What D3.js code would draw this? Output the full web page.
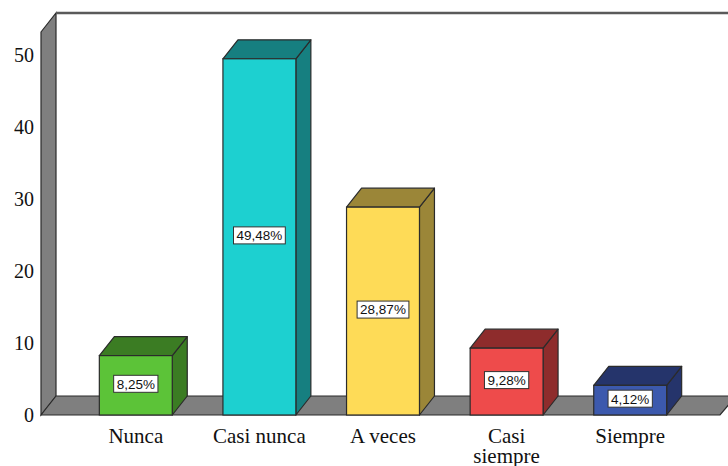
<!DOCTYPE html>
<html>
<head>
<meta charset="utf-8">
<script src="https://cdn.jsdelivr.net/npm/d3@7"></script>
<style>
  html, body { margin: 0; padding: 0; background: #fff; }
  svg { display: block; }
</style>
</head>
<body>
<svg id="chart" width="728" height="466"></svg>
<script>
// Survey responses, percentage of respondents per answer
const categories = ["Nunca", "Casi nunca", "A veces", "Casi siempre", "Siempre"];
const percentages = [8.25, 49.48, 28.87, 9.28, 4.12];
const valueLabels = ["8,25%", "49,48%", "28,87%", "9,28%", "4,12%"];
const yTicks = [0, 10, 20, 30, 40, 50];

const frontColors = ["#5cc338", "#1dd0d0", "#fedb57", "#ee4b4b", "#3c59ad"];
const sideColors  = ["#3b7c23", "#167f80", "#9b8638", "#8e2c2c", "#25346b"];

const W = 728, H = 466;
const svg = d3.select("#chart");

// 3D depth offset of the back plane relative to the front plane
const DX = 15, DY = -19;
const floorLeft = 41, floorRight = 720;
const axisMax = 53.2;

const y = d3.scaleLinear().domain([0, axisMax]).range([415, 32]);
const x = d3.scaleBand().domain(categories).range([74, 692])
  .paddingInner(0.41).paddingOuter(0.205);

const outline = "#2b2b2b";
const y0 = y(0), yTop = y(axisMax);

// Left wall
svg.append("polygon")
  .attr("points", [[floorLeft, yTop], [floorLeft + DX, yTop + DY], [floorLeft + DX, y0 + DY], [floorLeft, y0]].join(" "))
  .attr("fill", "#7f7f7f").attr("stroke", outline).attr("stroke-width", 1.2);

// Back wall top edge
svg.append("line")
  .attr("x1", floorLeft + DX).attr("x2", W + 2)
  .attr("y1", yTop + DY).attr("y2", yTop + DY)
  .attr("stroke", "#5a5a5a").attr("stroke-width", 2.5);

// Floor
svg.append("polygon")
  .attr("points", [[floorLeft, y0], [floorLeft + DX, y0 + DY], [floorRight + DX + 1, y0 + DY], [floorRight, y0]].join(" "))
  .attr("fill", "#7f7f7f").attr("stroke", outline).attr("stroke-width", 1.2);

// Y axis tick labels
svg.append("g").selectAll("text").data(yTicks).join("text")
  .attr("x", 34).attr("y", d => y(d))
  .attr("dy", "0.35em")
  .attr("text-anchor", "end")
  .attr("font-family", "Liberation Serif, Times New Roman, serif")
  .attr("font-size", 20)
  .attr("fill", "#111")
  .text(d => d);

// Bars
const bars = svg.append("g").selectAll("g").data(categories).join("g");

bars.each(function (c, i) {
  const g = d3.select(this);
  const x0 = x(c), x1 = x(c) + x.bandwidth();
  const yt = y(percentages[i]);
  // side face
  g.append("polygon")
    .attr("points", [[x1, yt], [x1 + DX, yt + DY], [x1 + DX, y0 + DY], [x1, y0]].join(" "))
    .attr("fill", sideColors[i]).attr("stroke", outline).attr("stroke-width", 1.2)
    .attr("stroke-linejoin", "round");
  // top face
  g.append("polygon")
    .attr("points", [[x0, yt], [x0 + DX, yt + DY], [x1 + DX, yt + DY], [x1, yt]].join(" "))
    .attr("fill", sideColors[i]).attr("stroke", outline).attr("stroke-width", 1.2)
    .attr("stroke-linejoin", "round");
  // front face
  g.append("rect")
    .attr("x", x0).attr("y", yt)
    .attr("width", x.bandwidth()).attr("height", y0 - yt)
    .attr("fill", frontColors[i]).attr("stroke", outline).attr("stroke-width", 1.2);

  // value label in a white box at the middle of the front face
  const cx = x0 + x.bandwidth() / 2, cy = (yt + y0) / 2 - 1.5;
  const t = g.append("text")
    .attr("x", cx).attr("y", cy)
    .attr("dy", "0.36em")
    .attr("text-anchor", "middle")
    .attr("font-family", "Liberation Sans, Arial, sans-serif")
    .attr("font-size", 13.5)
    .attr("fill", "#111")
    .text(valueLabels[i]);
  const bb = t.node().getBBox();
  g.insert("rect", "text")
    .attr("x", cx - bb.width / 2 - 3).attr("y", cy - 8.5)
    .attr("width", bb.width + 6).attr("height", 17)
    .attr("fill", "#fff").attr("stroke", "#333").attr("stroke-width", 1);
});

// Category labels, wrapped onto two lines when too wide
const catLabels = svg.append("g").selectAll("text").data(categories).join("text")
  .attr("x", d => x(d) + x.bandwidth() / 2)
  .attr("y", 443)
  .attr("text-anchor", "middle")
  .attr("font-family", "Liberation Serif, Times New Roman, serif")
  .attr("font-size", 21)
  .attr("fill", "#111");

catLabels.each(function (d) {
  const words = d === "Casi siempre" ? d.split(" ") : [d];
  const el = d3.select(this);
  words.forEach((w, k) => {
    el.append("tspan")
      .attr("x", x(d) + x.bandwidth() / 2)
      .attr("dy", k === 0 ? 0 : 20)
      .text(w);
  });
});
</script>
</body>
</html>
